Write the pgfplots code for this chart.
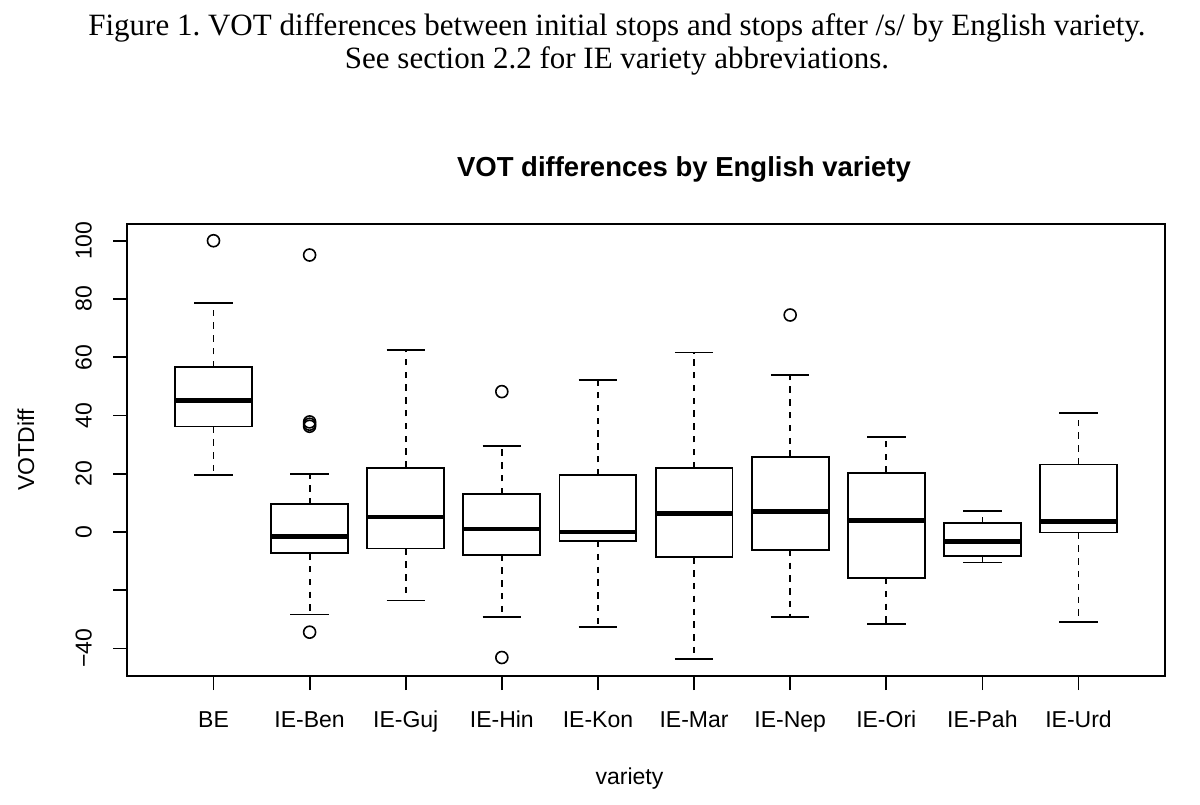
\documentclass[border=0pt]{standalone}
\usepackage{pgfplots}
\pgfplotsset{compat=1.18}
\usepgfplotslibrary{statistics}
\usepackage{fontspec}
\setmainfont{Liberation Serif}
\newfontfamily\helv{Liberation Sans}

\newcommand{\ticksize}{\helv\fontsize{11.5}{13.8}\selectfont}

\begin{document}
\frenchspacing
\begin{tikzpicture}
\begin{scope}[x=0.5pt,y=0.5pt]
% figure caption
\node[anchor=base, inner sep=0pt, font=\fontsize{15.5}{18}\selectfont] at (617,768)
  {Figure 1. VOT differences between initial stops and stops after /s/ by English variety.};
\node[anchor=base, inner sep=0pt, font=\fontsize{15.5}{18}\selectfont] at (617,735)
  {See section 2.2 for IE variety abbreviations.};

% plot title and axis titles
\node[anchor=base, inner sep=0pt, font=\helv\bfseries\fontsize{13.75}{16}\selectfont] at (684,627)
  {VOT differences by English variety};
\node[anchor=base, inner sep=0pt, font=\ticksize] at (629.5,20) {variety};
\node[anchor=base, inner sep=0pt, rotate=90, font=\ticksize] at (34,354) {VOTDiff};
\end{scope}

\begin{axis}[
  at={(63.5pt,64pt)}, anchor=south west,
  scale only axis, width=519pt, height=226pt,
  xmin=0.1, xmax=10.9, ymin=-49.45, ymax=105.75,
  axis line style={line width=0.9pt},
  tick pos=left, tick align=outside, major tick length=7pt,
  tick style={black, line width=0.9pt},
  xtick={1,...,10},
  xticklabels={BE,IE-Ben,IE-Guj,IE-Hin,IE-Kon,IE-Mar,IE-Nep,IE-Ori,IE-Pah,IE-Urd},
  ytick={-40,-20,0,20,40,60,80,100},
  yticklabels={−40,,0,20,40,60,80,100},
  xticklabel style={font=\ticksize, anchor=base, inner sep=0pt, yshift=-18.75pt},
  yticklabel style={font=\ticksize, xshift=-10.75pt, rotate=90, anchor=base, inner sep=0pt},
  clip=false,
  boxplot/draw direction=y,
  boxplot/box extend=0.8,
  boxplot/whisker extend=0.4,
  boxplot/every median/.style={line width=2.2pt},
  boxplot/draw/lower whisker/.code={
    \draw[dash pattern=on 3.2pt off 3.2pt]
      (boxplot box cs:\pgfplotsboxplotvalue{lower quartile},0.5) --
      (boxplot box cs:\pgfplotsboxplotvalue{lower whisker},0.5);
    \draw
      (boxplot whisker cs:\pgfplotsboxplotvalue{lower whisker},0) --
      (boxplot whisker cs:\pgfplotsboxplotvalue{lower whisker},1);
  },
  boxplot/draw/upper whisker/.code={
    \draw[dash pattern=on 3.2pt off 3.2pt]
      (boxplot box cs:\pgfplotsboxplotvalue{upper quartile},0.5) --
      (boxplot box cs:\pgfplotsboxplotvalue{upper whisker},0.5);
    \draw
      (boxplot whisker cs:\pgfplotsboxplotvalue{upper whisker},0) --
      (boxplot whisker cs:\pgfplotsboxplotvalue{upper whisker},1);
  },
]
% BE
\addplot[black, line width=0.9pt, boxplot prepared={draw position=1,
  lower whisker=19.7, lower quartile=36.2, median=45.2, upper quartile=56.6, upper whisker=78.5}]
  coordinates {};
% IE-Ben
\addplot[black, line width=0.9pt, boxplot prepared={draw position=2,
  lower whisker=-28.3, lower quartile=-7.3, median=-1.5, upper quartile=9.5, upper whisker=19.9}]
  coordinates {};
% IE-Guj
\addplot[black, line width=0.9pt, boxplot prepared={draw position=3,
  lower whisker=-23.5, lower quartile=-5.7, median=5.05, upper quartile=22.1, upper whisker=62.5}]
  coordinates {};
% IE-Hin
\addplot[black, line width=0.9pt, boxplot prepared={draw position=4,
  lower whisker=-29.2, lower quartile=-7.8, median=1.0, upper quartile=13.0, upper whisker=29.5}]
  coordinates {};
% IE-Kon
\addplot[black, line width=0.9pt, boxplot prepared={draw position=5,
  lower whisker=-32.5, lower quartile=-3.1, median=0.0, upper quartile=19.5, upper whisker=52.1}]
  coordinates {};
% IE-Mar
\addplot[black, line width=0.9pt, boxplot prepared={draw position=6,
  lower whisker=-43.7, lower quartile=-8.7, median=6.3, upper quartile=22.0, upper whisker=61.6}]
  coordinates {};
% IE-Nep
\addplot[black, line width=0.9pt, boxplot prepared={draw position=7,
  lower whisker=-29.2, lower quartile=-6.1, median=7.1, upper quartile=25.8, upper whisker=53.9}]
  coordinates {};
% IE-Ori
\addplot[black, line width=0.9pt, boxplot prepared={draw position=8,
  lower whisker=-31.5, lower quartile=-15.8, median=4.0, upper quartile=20.3, upper whisker=32.5}]
  coordinates {};
% IE-Pah
\addplot[black, line width=0.9pt, boxplot prepared={draw position=9,
  lower whisker=-10.5, lower quartile=-8.2, median=-3.2, upper quartile=3.1, upper whisker=7.1}]
  coordinates {};
% IE-Urd
\addplot[black, line width=0.9pt, boxplot prepared={draw position=10,
  lower whisker=-31.0, lower quartile=-0.2, median=3.6, upper quartile=23.2, upper whisker=40.9}]
  coordinates {};

% outliers
\addplot[only marks, mark=o, mark size=3pt, mark options={black, line width=0.8pt}]
  coordinates {
    (1,100)
    (2,95.1) (2,37.8) (2,37.0) (2,36.3) (2,-34.4)
    (4,48.2) (4,-43.1)
    (7,74.5)
  };
\end{axis}

% page extent
\pgfresetboundingbox
\path[use as bounding box] (0,0) rectangle (600pt,402pt);
\end{tikzpicture}
\end{document}
